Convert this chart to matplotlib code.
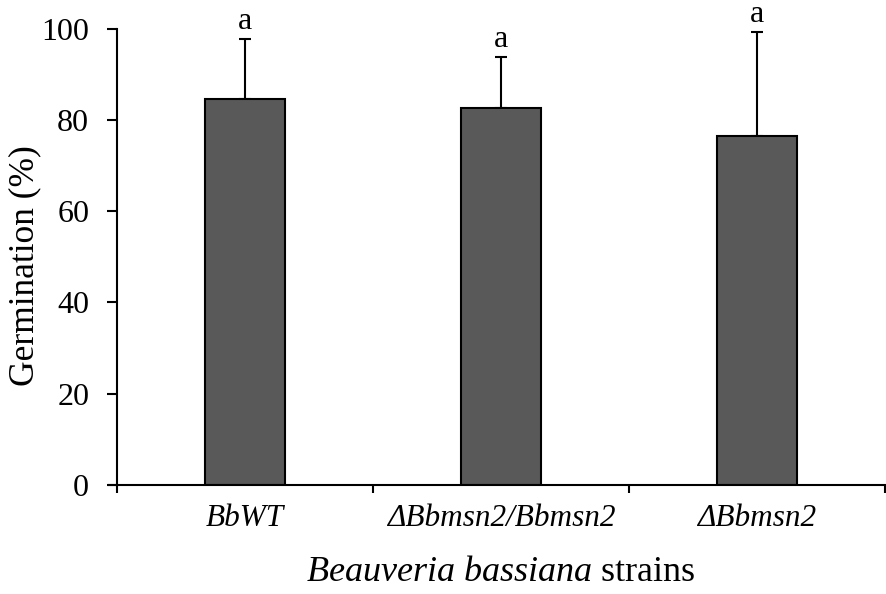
import numpy as np
import matplotlib
matplotlib.use("Agg")
import matplotlib.pyplot as plt

strains = ["BbWT", "\u0394Bbmsn2/Bbmsn2", "\u0394Bbmsn2"]
germination = [84.6, 82.6, 76.5]
err_up = [13.1, 11.1, 22.8]
letters = ["a", "a", "a"]

plt.rcParams['font.family'] = ['Liberation Serif', 'DejaVu Serif']
plt.rcParams['mathtext.fontset'] = 'custom'
plt.rcParams['mathtext.rm'] = 'Liberation Serif'
plt.rcParams['mathtext.it'] = 'Liberation Serif:italic'

fig = plt.figure(figsize=(8.86, 5.94), dpi=100)
ax = fig.add_axes([0.132, 0.1835, 0.867, 0.7685])

x = np.arange(len(strains)) + 0.5
ax.bar(x, germination, width=0.31, color="#595959", edgecolor="black", linewidth=1.5, zorder=2)
ax.errorbar(x, germination, yerr=[np.zeros(len(err_up)), err_up], fmt="none",
            ecolor="black", elinewidth=1.5, capsize=4, capthick=1.5, zorder=1)
for xi, g, e, l in zip(x, germination, err_up, letters):
    ax.text(xi, g + e + 2.2, l, ha="center", va="baseline", fontsize=23)

ax.set_xlim(0, 3)
ax.set_ylim(0, 100)
ax.set_yticks([0, 20, 40, 60, 80, 100])
ax.set_xticks([0, 1, 2, 3])
ax.set_xticklabels([])
ax.set_xticks(x, minor=True)
ax.set_xticklabels(strains, minor=True, style="italic", fontsize=22.5)
ax.tick_params(axis="x", which="minor", length=0, pad=14)
ax.tick_params(axis="x", which="major", length=6, width=1.5, direction="out")
ax.tick_params(axis="y", length=7, width=1.5, direction="out", pad=13, labelsize=23)

for s in ["top", "right"]:
    ax.spines[s].set_visible(False)
ax.spines["left"].set_linewidth(1.5)
ax.spines["bottom"].set_linewidth(1.5)
ax.plot([-0.011, 0], [0, 0], color="black", linewidth=1.5, transform=ax.transAxes, clip_on=False)

ax.set_ylabel("Germination (%)", fontsize=25.5)
ax.yaxis.set_label_coords(-0.098, 0.48)
ax.set_xlabel(r"$\it{Beauveria\ bassiana}$ strains", fontsize=26, labelpad=16)

fig.savefig("out.png", dpi=100)
